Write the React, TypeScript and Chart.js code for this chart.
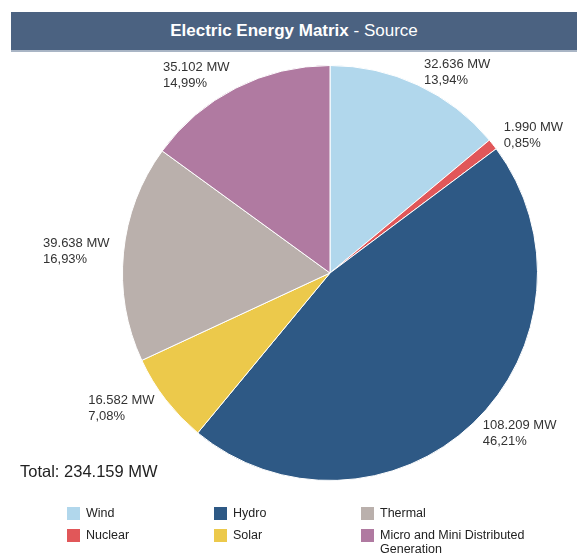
import React, { useEffect, useRef } from "react";
import { Chart, registerables } from "chart.js";

Chart.register(...registerables);

const categories = ["Wind", "Nuclear", "Hydro", "Solar", "Thermal", "Micro and Mini Distributed Generation"];
const valuesMW = [32636, 1990, 108209, 16582, 39638, 35102];
const colors = ["#b1d7ec", "#e15759", "#2e5985", "#ecc94b", "#bab0ac", "#b07aa1"];
const totalLabel = "234.159 MW";
const legendOrder = [0, 2, 4, 1, 3, 5];

const FONT = "Arial, 'Liberation Sans', Helvetica, sans-serif";

const fmtMW = (v: number) => v.toLocaleString("de-DE") + " MW";
const fmtPct = (p: number) => p.toFixed(2).replace(".", ",") + "%";

const labelPlugin = {
  id: "sliceLabels",
  afterDatasetsDraw(chart: any) {
    const ctx = chart.ctx;
    const meta = chart.getDatasetMeta(0);
    const data = chart.data.datasets[0].data as number[];
    const sum = data.reduce((a, b) => a + b, 0);
    ctx.save();
    ctx.font = `13px ${FONT}`;
    ctx.fillStyle = "#333333";
    ctx.textBaseline = "middle";
    ctx.textAlign = "left";
    meta.data.forEach((arc: any, i: number) => {
      const { x, y, startAngle, endAngle, outerRadius } = arc.getProps(["x", "y", "startAngle", "endAngle", "outerRadius"], true);
      const mid = (startAngle + endAngle) / 2;
      const r = outerRadius + 14;
      const px = x + Math.cos(mid) * r;
      const py = y + Math.sin(mid) * r;
      const right = Math.cos(mid) >= 0;
      const l1 = fmtMW(data[i]);
      const l2 = fmtPct((data[i] / sum) * 100);
      const w = Math.max(ctx.measureText(l1).width, ctx.measureText(l2).width);
      const lx = right ? px : px - w;
      ctx.fillText(l1, lx, py - 8);
      ctx.fillText(l2, lx, py + 8);
    });
    ctx.restore();
  },
};

export default function App() {
  const ref = useRef<HTMLCanvasElement | null>(null);
  useEffect(() => {
    if (!ref.current) return;
    const chart = new Chart(ref.current, {
      type: "pie",
      data: {
        labels: categories,
        datasets: [
          {
            data: valuesMW,
            backgroundColor: colors,
            borderColor: "#ffffff",
            borderWidth: 1,
          },
        ],
      },
      options: {
        responsive: false,
        animation: false,
        layout: { padding: { left: 122, right: 39, top: 65, bottom: 77 } },
        plugins: { legend: { display: false }, tooltip: { enabled: false } },
      },
      plugins: [labelPlugin],
    });
    return () => chart.destroy();
  }, []);

  return (
    <div style={{ position: "absolute", left: 0, top: 0, width: 577, height: 558, background: "#fff", fontFamily: FONT, overflow: "hidden" }}>
      <canvas ref={ref} width={577} height={558} style={{ position: "absolute", left: 0, top: 0 }} />
      <div
        style={{
          position: "absolute",
          left: 11,
          top: 12,
          width: 566,
          height: 38,
          background: "#4b6281",
          borderBottom: "2px solid #a9b5c5",
          color: "#fff",
          fontSize: 17,
          lineHeight: "38px",
          textAlign: "center",
        }}
      >
        <b>Electric Energy Matrix</b> - Source
      </div>
      <div style={{ position: "absolute", left: 20, top: 461, fontSize: 16.5, color: "#222", lineHeight: "20px" }}>
        Total: {totalLabel}
      </div>
      {legendOrder.map((idx, k) => {
        const col = k % 3;
        const row = Math.floor(k / 3);
        const left = [67, 214, 361][col];
        const top = 507 + row * 22;
        return (
          <div key={idx} style={{ position: "absolute", left, top, display: "flex", alignItems: "flex-start" }}>
            <div style={{ width: 13, height: 13, background: colors[idx], marginRight: 6, flex: "none" }} />
            <div style={{ fontSize: 12.5, color: "#222", lineHeight: "14px", width: col === 2 ? 200 : 120, marginTop: -1 }}>
              {categories[idx] === "Micro and Mini Distributed Generation" ? (
                <>Micro and Mini Distributed<br />Generation</>
              ) : (
                categories[idx]
              )}
            </div>
          </div>
        );
      })}
    </div>
  );
}
